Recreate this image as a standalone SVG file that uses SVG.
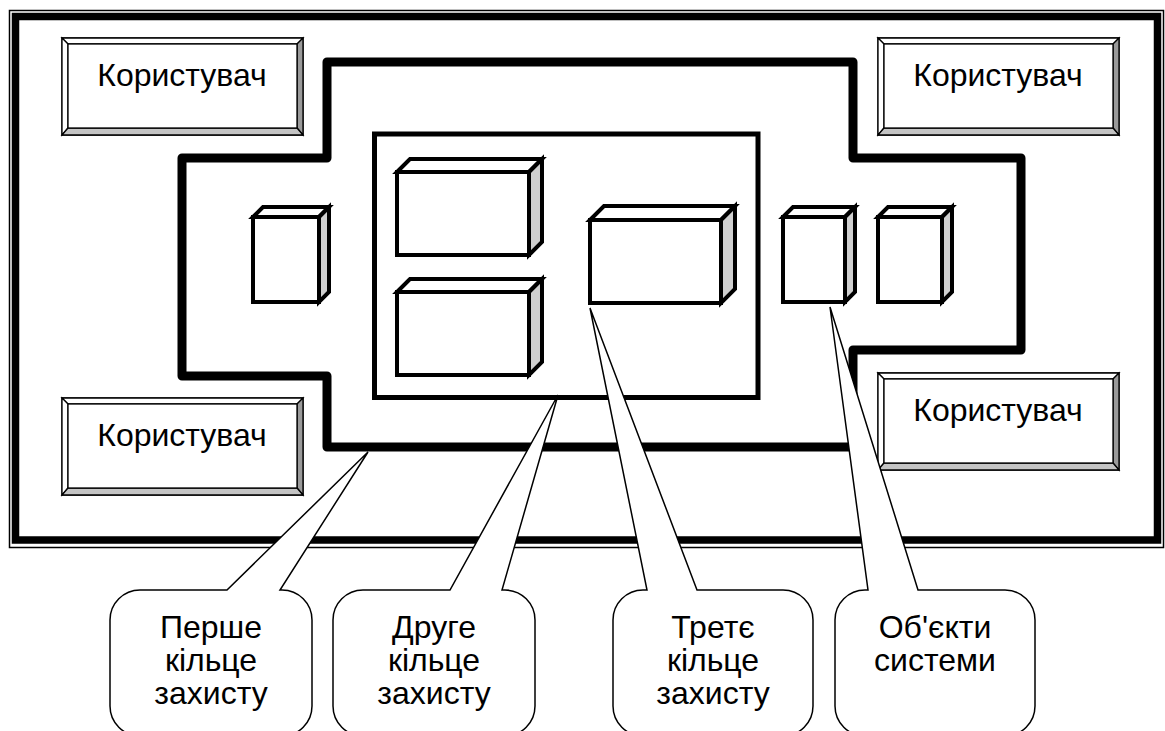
<svg xmlns="http://www.w3.org/2000/svg" width="1165" height="731" viewBox="0 0 1165 731">
<style>
.t{font-family:"Liberation Sans",Arial,sans-serif;font-size:32px;fill:#000;text-anchor:middle}
.cube{stroke:#000;stroke-width:4;stroke-linejoin:miter}
.front{fill:#fff}.top{fill:#fff}.side{fill:#cfcfcf}
.bv{stroke:#000;stroke-width:1.3;stroke-linejoin:miter}
.call{fill:#fff;stroke:#000;stroke-width:1.5;stroke-linejoin:miter}
</style>
<defs>
<g id="btn">
<rect x="0" y="0" width="241" height="97" fill="#fff" class="bv"/>
<polygon class="bv" points="0,0 241,0 235,6 6,6" fill="#fff"/>
<polygon class="bv" points="0,0 6,6 6,90 0,97" fill="#fff"/>
<polygon class="bv" points="241,0 241,97 235,90 235,6" fill="#9a9a9a"/>
<polygon class="bv" points="0,97 241,97 235,90 6,90" fill="#c4c4c4"/>
<rect x="6" y="6" width="229" height="84" fill="#fff" class="bv"/>
</g>
</defs>
<rect width="1165" height="731" fill="#fff"/>
<g id="frame" fill="none" stroke="#000">
<rect x="9.5" y="10.5" width="1154" height="537" stroke-width="1.5"/>
<rect x="15.5" y="16.5" width="1142" height="523.5" stroke-width="7.5"/>
</g>
<g id="ring1">
<path d="M327,62 H853 V158 H1021 V350 H853 V447 H327 V376 H182 V158 H327 Z" fill="none" stroke="#000" stroke-width="9" stroke-linejoin="round"/>
</g>
<g id="ring2">
<rect x="374.5" y="134" width="383.5" height="263.5" fill="none" stroke="#000" stroke-width="5"/>
</g>
<g id="user-tl"><use href="#btn" x="62" y="38"/><text class="t" x="182" y="86">Користувач</text></g>
<g id="user-tr"><use href="#btn" x="878" y="38"/><text class="t" x="998" y="86">Користувач</text></g>
<g id="user-bl"><use href="#btn" x="62" y="398"/><text class="t" x="182" y="446">Користувач</text></g>
<g id="user-br"><use href="#btn" x="878" y="373"/><text class="t" x="998" y="421">Користувач</text></g>
<g id="obj-a" class="cube">
<polygon class="top cube" points="397,172 410,159 542,159 529,172"/>
<polygon class="side cube" points="529,172 542,159 542,242 529,255"/>
<rect class="front cube" x="397" y="172" width="132" height="83"/>
</g>
<g id="obj-b" class="cube">
<polygon class="top cube" points="397,292 410,279 542,279 529,292"/>
<polygon class="side cube" points="529,292 542,279 542,362 529,375"/>
<rect class="front cube" x="397" y="292" width="132" height="83"/>
</g>
<g id="obj-c" class="cube">
<polygon class="top cube" points="590,220 604,206 735,206 721,220"/>
<polygon class="side cube" points="721,220 735,206 735,289 721,303"/>
<rect class="front cube" x="590" y="220" width="131" height="83"/>
</g>
<g id="obj-left" class="cube">
<polygon class="top cube" points="253,217 263,207 329,207 319,217"/>
<polygon class="side cube" points="319,217 329,207 329,292 319,302"/>
<rect class="front cube" x="253" y="217" width="66" height="85"/>
</g>
<g id="obj-d" class="cube">
<polygon class="top cube" points="783,217 793,207 855,207 845,217"/>
<polygon class="side cube" points="845,217 855,207 855,292 845,302"/>
<rect class="front cube" x="783" y="217" width="62" height="85"/>
</g>
<g id="obj-e" class="cube">
<polygon class="top cube" points="878,217 888,207 952,207 942,217"/>
<polygon class="side cube" points="942,217 952,207 952,292 942,302"/>
<rect class="front cube" x="878" y="217" width="64" height="85"/>
</g>
<g id="connectors">
<path class="call" d="M140,590 H227 L368,452 L280,590 H282 A30,30 0 0 1 312,620 V706 A30,30 0 0 1 282,736 H140 A30,30 0 0 1 110,706 V620 A30,30 0 0 1 140,590 Z"/>
<path class="call" d="M363,590 H450 L558,395 L502,590 H505 A30,30 0 0 1 535,620 V706 A30,30 0 0 1 505,736 H363 A30,30 0 0 1 333,706 V620 A30,30 0 0 1 363,590 Z"/>
<path class="call" d="M643,590 H647 L590,308 L697,590 H783 A30,30 0 0 1 813,620 V706 A30,30 0 0 1 783,736 H643 A30,30 0 0 1 613,706 V620 A30,30 0 0 1 643,590 Z"/>
<path class="call" d="M865,590 H868 L830,307 L918,590 H1005 A30,30 0 0 1 1035,620 V706 A30,30 0 0 1 1005,736 H865 A30,30 0 0 1 835,706 V620 A30,30 0 0 1 865,590 Z"/>
</g>
<g id="label-1"><text class="t" x="211" y="638">Перше</text><text class="t" x="211" y="671">кільце</text><text class="t" x="211" y="704">захисту</text></g>
<g id="label-2"><text class="t" x="434" y="638">Друге</text><text class="t" x="434" y="671">кільце</text><text class="t" x="434" y="704">захисту</text></g>
<g id="label-3"><text class="t" x="713" y="638">Третє</text><text class="t" x="713" y="671">кільце</text><text class="t" x="713" y="704">захисту</text></g>
<g id="label-4"><text class="t" x="935" y="638">Об'єкти</text><text class="t" x="935" y="671">системи</text></g>
</svg>
